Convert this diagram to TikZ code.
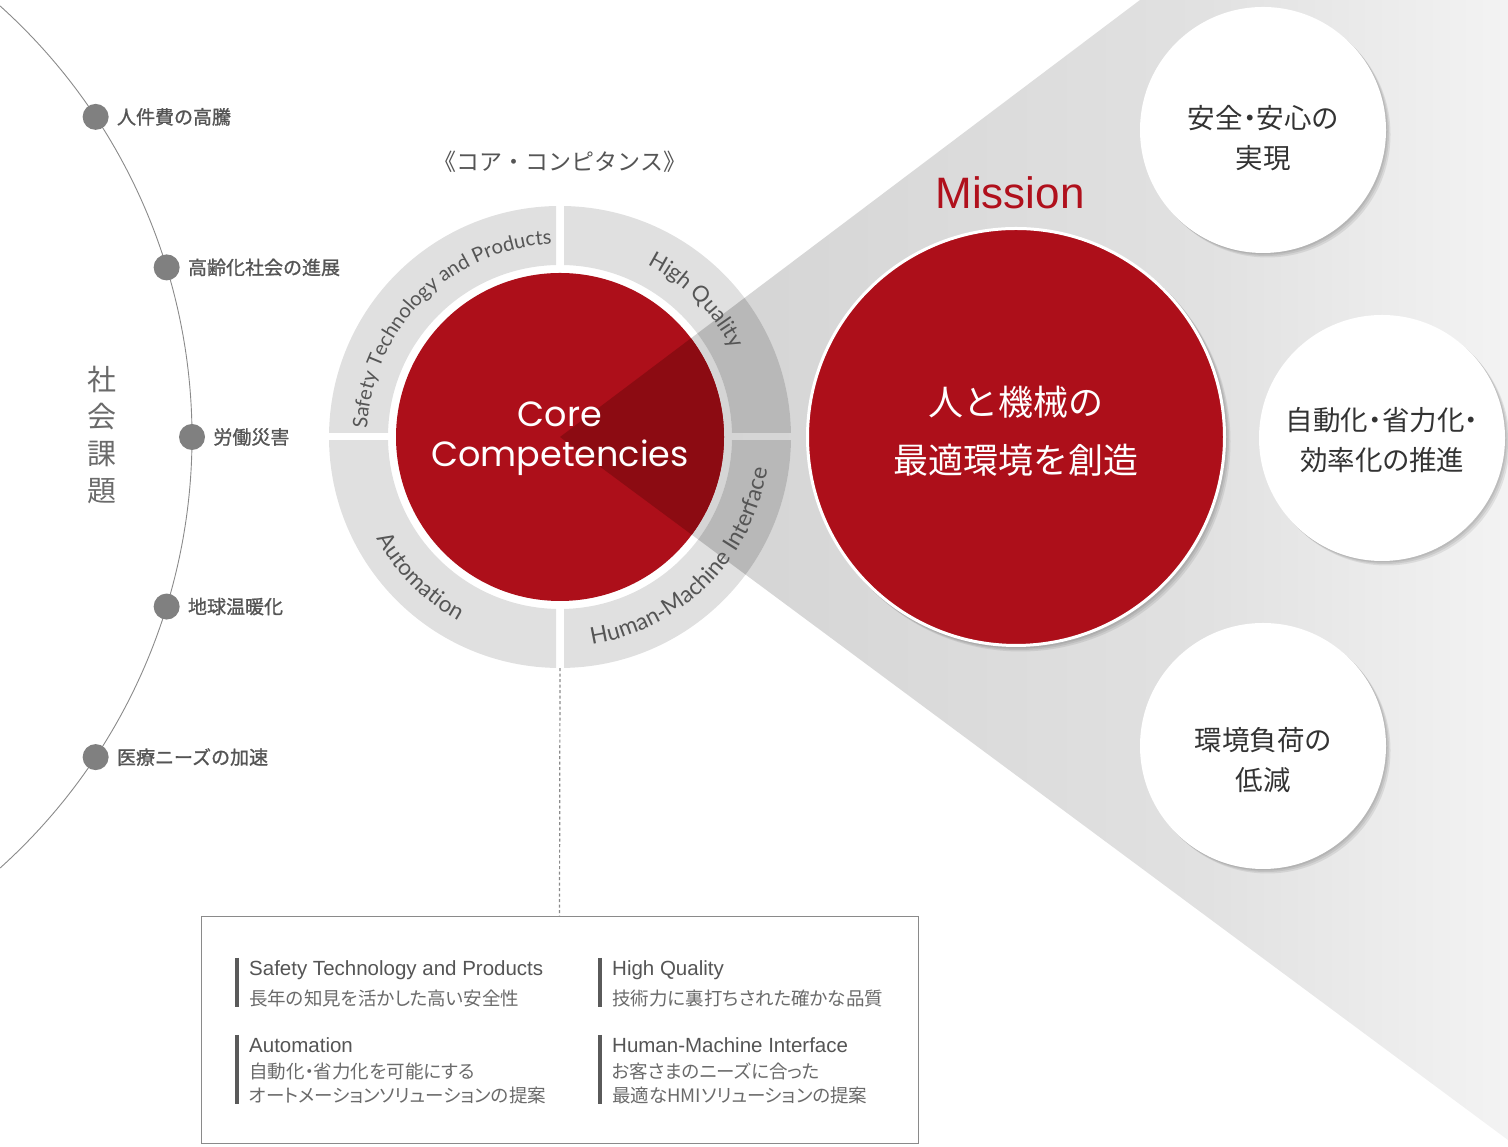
\documentclass[tikz,border=0pt]{standalone}
\usepackage{fontspec}
\newfontfamily\jp{Noto Sans CJK JP}
\newfontfamily\jpb[FakeBold=1.2]{Noto Sans CJK JP}
\newfontfamily\jpp[RawFeature=+palt]{Noto Sans CJK JP}
\newfontfamily\pop{Poppins}
\newfontfamily\lat{Lato}
\newfontfamily\hel{Liberation Sans}
\usetikzlibrary{positioning,decorations.text}

\newcommand\fsz[2]{\fontsize{#1}{#2}\selectfont}

\definecolor{corered}{HTML}{AD0F1A}
\definecolor{coredark}{HTML}{8C0B12}
\definecolor{missred}{HTML}{B0101C}
\definecolor{ringgray}{HTML}{E0E0E0}
\definecolor{ringdark}{HTML}{B8B8B8}
\definecolor{dotgray}{HTML}{808080}
\definecolor{arcgray}{HTML}{8A8A8A}
\definecolor{txtgray}{HTML}{555555}
\definecolor{subgray}{HTML}{6A6A6A}
\definecolor{goaltxt}{HTML}{333333}
\definecolor{bargray}{HTML}{5A5A5A}
\definecolor{cone1}{HTML}{D2D2D2}
\definecolor{cone2}{HTML}{D6D6D6}
\definecolor{cone3}{HTML}{E1E1E1}
\definecolor{cone4}{HTML}{F3F3F3}

\pgfdeclarehorizontalshading{conefade}{100bp}{color(0bp)=(cone1); color(25bp)=(cone1);
  color(36bp)=(cone2); color(59bp)=(cone3); color(75bp)=(cone4); color(100bp)=(cone4)}

% four quarters of the ring, cut apart by straight gaps
\newcommand\ringparts[1]{%
  \foreach \sx/\sy in {-1/1,1/1,-1/-1,1/-1}{
    \begin{scope}
      \clip (560+4*\sx,710+4*\sy) rectangle ++(240*\sx,240*\sy);
      \fill[#1,even odd rule] (560,710) circle (231) circle (172);
    \end{scope}}}

\tikzset{
  dot/.style={circle, fill=dotgray, minimum size=26pt, inner sep=0pt},
  issue/.style={font=\jpb\fsz{19}{23}, text=txtgray, inner sep=0pt},
  goal/.style={circle, fill=white, minimum size=246pt, inner sep=0pt},
  goaltext/.style={align=center, text=goaltxt, font=\jpp\fsz{27.5}{40}},
  ttl/.style={anchor=north west, inner sep=0pt, font=\hel\fsz{20.5}{24}, text=txtgray},
  sub/.style={anchor=north west, inner sep=0pt, align=left, font=\jpp\fsz{18.5}{24}, text=subgray},
  bar/.style={draw=bargray, line width=4pt},
  dashline/.style={draw=arcgray, dash pattern=on 3pt off 2.5pt, line width=1.2pt},
  arcline/.style={draw=arcgray, line width=0.9pt},
  shadowc/.style={fill=black, opacity=.08},
  ringtext/.style 2 args={decorate, decoration={text along path, text align=center,
    text color=txtgray, text={|\lat\fsz{#1}{#1}|#2}}}
}

\begin{document}
\begin{tikzpicture}[x=1pt,y=1pt]
\useasboundingbox (0,0) rectangle (1508,1147);
\coordinate (c) at (560,710);
\coordinate (o) at (-388,710);

% cone
\shade[shading=conefade] (c) -- (1140,1147) -- (1508,1147) -- (1508,7) -- cycle;

% core competencies
\ringparts{ringgray}
\fill[corered] (c) circle (164);
\begin{scope}
  \clip (c) -- (1140,1147) -- (1508,1147) -- (1508,7) -- cycle;
  \ringparts{ringdark}
  \fill[coredark] (c) circle (164);
\end{scope}
\node[circle, minimum size=462pt, inner sep=0pt] (ring) at (c) {};
\path[shift={(c)}, ringtext={20.2}{Safety Technology and Products}] (205:193) arc[start angle=205, end angle=65, radius=193];
\path[shift={(c)}, ringtext={22}{High Quality}] (100:193) arc[start angle=100, end angle=-10, radius=193];
\path[shift={(c)}, ringtext={22.5}{Automation}] (170:210) arc[start angle=170, end angle=280, radius=210];
\path[shift={(c)}, ringtext={23}{Human-Machine Interface}] (250:210) arc[start angle=250, end angle=380, radius=210];
\node[font=\pop\fsz{35}{40}, text=white, align=center] (core) at (560,708) {Core\\Competencies};
\node[font=\jp\fsz{23}{28}, text=txtgray, above=30pt of ring] (title) {《コア・コンピタンス》};

% mission
\foreach \o in {1.5,3,4.5}
  \fill[shadowc] (1016+\o,710-\o) circle (210);
\node[circle, fill=corered, draw=white, line width=3pt, minimum size=417pt, inner sep=0pt] (mission) at (1016,710) {};
\node[align=center, text=white, font=\jp\fsz{35}{58}] (mtext) at ([yshift=6pt]mission.center) {人と機械の\\最適環境を創造};
\node[font=\hel\fsz{44}{50}, text=missred, inner sep=0pt, above=18pt of mission, xshift=-6pt] (mlabel) {Mission};

\foreach \x/\y/\t/\dy [count=\i] in {1263/1017/{安全・安心の\\実現}/-8, 1382/709/{自動化・省力化・\\効率化の推進}/-2, 1263/401/{環境負荷の\\低減}/-14}{
  \foreach \o in {1.5,3,4.5}
    \fill[shadowc] (\x+\o,\y-\o) circle (123);
  \node[goal] (g\i) at (\x,\y) {};
  \node[goaltext] (gt\i) at ([yshift=\dy pt]g\i.center) {\t};
}

% social issues
\draw[arcline] (o) ++(48:580) arc[start angle=48, end angle=-48, radius=580];
\foreach \a/\t [count=\i] in {33.5/人件費の高騰,17/高齢化社会の進展,0/労働災害,-17/地球温暖化,-33.5/医療ニーズの加速}{
  \node[dot] (d\i) at ([shift={(\a:580)}]o) {};
  \node[issue, right=8pt of d\i] (i\i) {\t};
}
\node[font=\jp\fsz{29}{37}, text=subgray, align=center] (side) at (102,712) {社\\会\\課\\題};

% legend
\node[draw=arcgray, fill=white, line width=1pt, minimum width=717pt, minimum height=227pt,
  inner sep=0pt] (legend) at (559.5,116.5) {};
\draw[dashline] (ring.south) -- (legend.north);
\foreach \x/\y/\t/\s [count=\i] in {
  249/187/{Safety Technology and Products}/{長年の知見を活かした高い安全性},
  612/187/{High Quality}/{技術力に裏打ちされた確かな品質},
  249/110/{Automation}/{自動化・省力化を可能にする\\オートメーションソリューションの提案},
  612/110/{Human-Machine Interface}/{お客さまのニーズに合った\\最適なHMIソリューションの提案}}{
  \node[ttl] (t\i) at (\x,\y) {\t};
  \node[sub] (s\i) at ([yshift=-10pt]t\i.south west) {\s};
  \draw[bar] ([xshift=-12pt,yshift=2pt]t\i.north west) -- ([xshift=-12pt]s\i.south west);
}
\end{tikzpicture}
\end{document}
